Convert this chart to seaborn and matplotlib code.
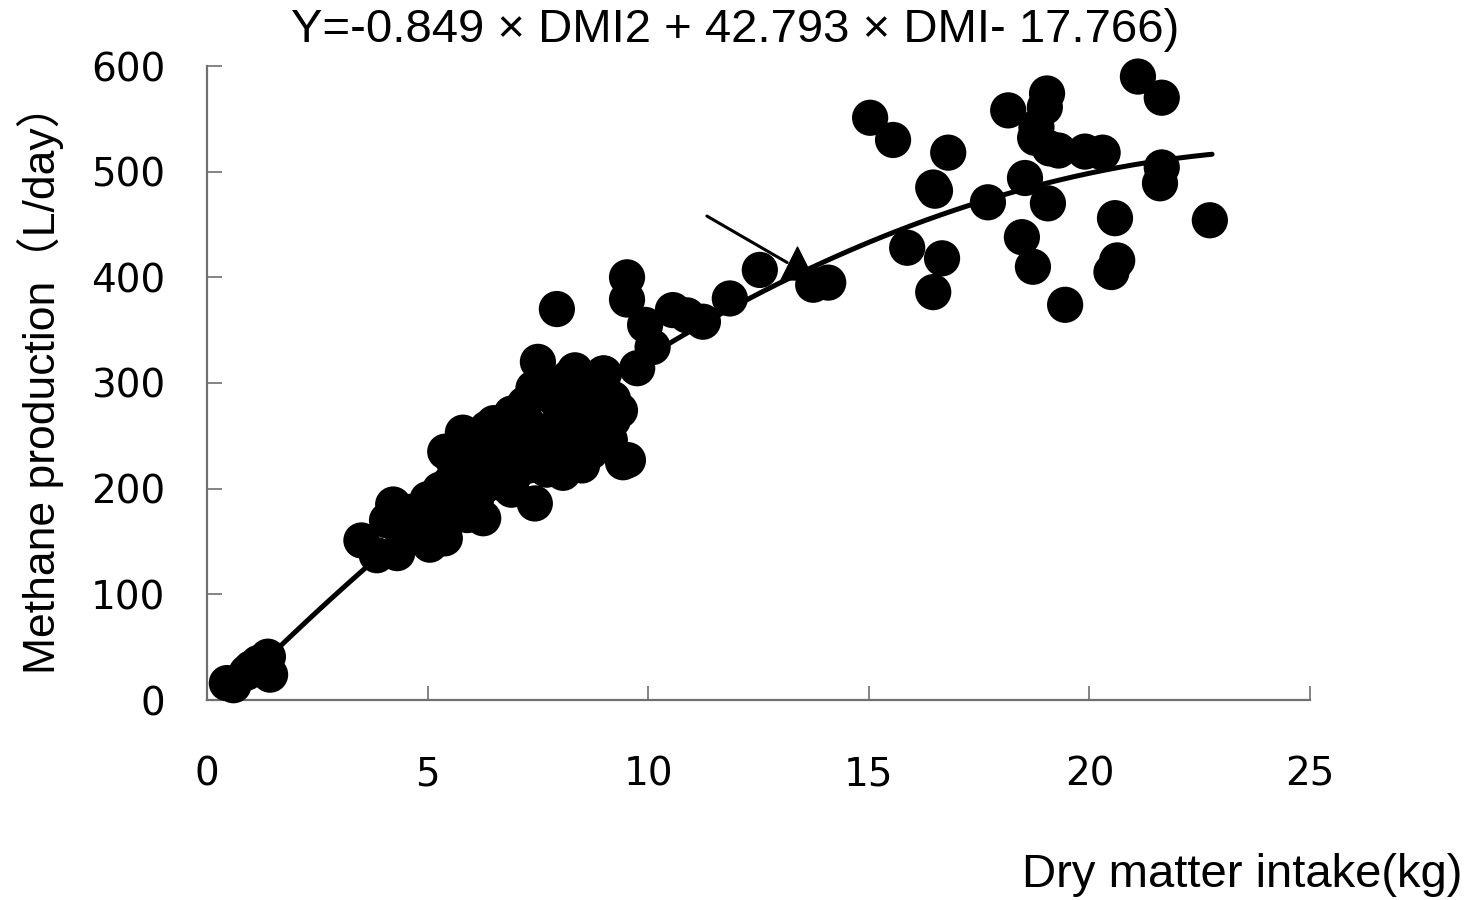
import numpy as np
import pandas as pd
import matplotlib
matplotlib.use("Agg")
import matplotlib.pyplot as plt
import seaborn as sns

# ---- data ----
dmi = [0.45, 0.9, 1.16, 1.38, 1.43, 0.6, 1.0,
       3.5, 3.85, 4.08, 4.22, 4.31, 4.4, 4.8, 5.05, 5.39, 5.2, 5.28, 5.6, 5.9, 6.26, 6.3, 6.0,
       5.4, 5.8, 6.35, 5.6, 6.9, 6.6, 6.2, 6.9, 7.1, 7.43, 7.6, 8.07, 7.7, 8.7, 8.8, 9.13, 9.43,
       9.36, 8.9, 8.9, 8.0, 7.9, 7.5, 7.6, 8.34, 9.0, 8.4, 8.2, 7.3, 6.8, 6.0, 7.0, 8.5, 8.3,
       8.6, 7.0, 6.5, 5.7, 6.1, 6.6, 7.2, 7.8, 8.1, 8.5, 9.54, 7.93,
       5.7, 6.1, 6.5, 7.2, 7.4, 7.8, 8.2, 8.8, 9.2, 9.2, 8.5, 7.9, 7.3, 6.7, 5.9, 5.5, 5.0, 4.6,
       8.98, 9.75, 9.52, 9.52, 9.93, 10.1, 10.56, 10.88, 11.24, 11.85, 12.53, 13.74, 14.08,
       15.03, 15.55, 16.8, 16.46, 16.5, 15.87, 16.66, 16.46, 17.7, 18.16, 19.04, 18.99, 18.8,
       18.77, 19.1, 19.3, 18.54, 19.06, 18.47, 18.72, 19.45, 19.9, 20.3, 20.58, 20.63, 20.5,
       21.1, 21.64, 21.64, 21.6, 22.73]
methane = [16, 26, 35, 41, 24, 14, 30,
           151, 137, 170, 185, 139, 161, 170, 147, 153, 166, 199, 189, 175, 172, 203, 199,
           235, 253, 257, 225, 271, 227, 218, 199, 246, 186, 240, 215, 218, 235, 246, 246, 225,
           274, 284, 265, 265, 284, 320, 303, 312, 309, 260, 290, 260, 240, 225, 215, 300, 240,
           275, 230, 210, 205, 190, 245, 230, 250, 290, 285, 227, 370,
           240, 245, 262, 280, 295, 300, 305, 295, 285, 265, 222, 228, 222, 205, 210, 205, 190, 178,
           309, 314, 400, 379, 355, 334, 369, 364, 358, 380, 407, 393, 395,
           551, 530, 518, 485, 482, 428, 418, 386, 471, 558, 574, 561, 542,
           532, 522, 520, 494, 470, 438, 410, 374, 519, 518, 456, 416, 405,
           590, 570, 504, 489, 454]

# fitted equation coefficients (from the title)
coef_a, coef_b, coef_c = -0.849, 42.793, -17.766
fit_x_range = [0.5, 22.78]

# highlighted point and pointer line
tri_x = [13.37]
tri_y = [414]
pointer_x = [11.33, 13.15]
pointer_y = [458, 414]

x_ticks = [0, 5, 10, 15, 20, 25]
y_ticks = [0, 100, 200, 300, 400, 500, 600]

title_text = "Y=-0.849 × DMI2 + 42.793 × DMI- 17.766)"
xlabel_text = "Dry matter intake(kg)"
ylabel_text = "Methane production（L/day）"

# ---- plotting ----
sns.set_theme(style="white")
plt.rcParams['font.family'] = ['Liberation Sans', 'Noto Sans CJK JP', 'DejaVu Sans']
plt.rcParams['text.color'] = 'black'
plt.rcParams['xtick.color'] = 'black'
plt.rcParams['ytick.color'] = 'black'

fig = plt.figure(figsize=(14.73, 9.0), dpi=100)
ax = fig.add_axes([207/1473, 1-700/900, (1310-207)/1473, (700-66)/900])

df = pd.DataFrame({"dmi": dmi, "methane": methane})
sns.scatterplot(data=df, x="dmi", y="methane", ax=ax, marker="o", s=680,
                color="black", edgecolor="none", linewidth=0, clip_on=False, zorder=3)

fx = np.linspace(fit_x_range[0], fit_x_range[1], 200)
fy = coef_a*fx**2 + coef_b*fx + coef_c
sns.lineplot(x=fx, y=fy, ax=ax, color="black", linewidth=3.6, zorder=4, clip_on=False)

sns.lineplot(x=pointer_x, y=pointer_y, ax=ax, color="black", linewidth=2.2, zorder=5)
ax.scatter(tri_x, tri_y, marker="^", s=560, color="black", zorder=5)

ax.set_xlim(0, 25)
ax.set_ylim(0, 600)
ax.set_xticks(x_ticks)
ax.set_yticks(y_ticks)
ax.set_xticklabels([str(v) for v in x_ticks], family="DejaVu Sans", fontsize=28, color="black")
ax.set_yticklabels([str(v) for v in y_ticks], family="DejaVu Sans", fontsize=28, color="black")
ax.tick_params(axis="x", direction="in", length=10, width=1.2, color="#707070", pad=40)
ax.tick_params(axis="y", direction="in", length=11, width=1.2, color="#707070", pad=30)
ax.tick_params(bottom=True, left=True)

for s in ["top", "right"]:
    ax.spines[s].set_visible(False)
for s in ["left", "bottom"]:
    ax.spines[s].set_color("#707070")
    ax.spines[s].set_linewidth(1.6)

ax.set_xlabel("")
ax.set_ylabel("")

fig.text(735/1473, 1-30/900, title_text, ha="center", va="center", fontsize=34)
fig.text(1462/1473, 1-875/900, xlabel_text, ha="right", va="center", fontsize=34)
fig.text(40/1473, 1-378/900, ylabel_text, ha="center", va="center", rotation=90, fontsize=32)

fig.savefig("out.png", dpi=100)
